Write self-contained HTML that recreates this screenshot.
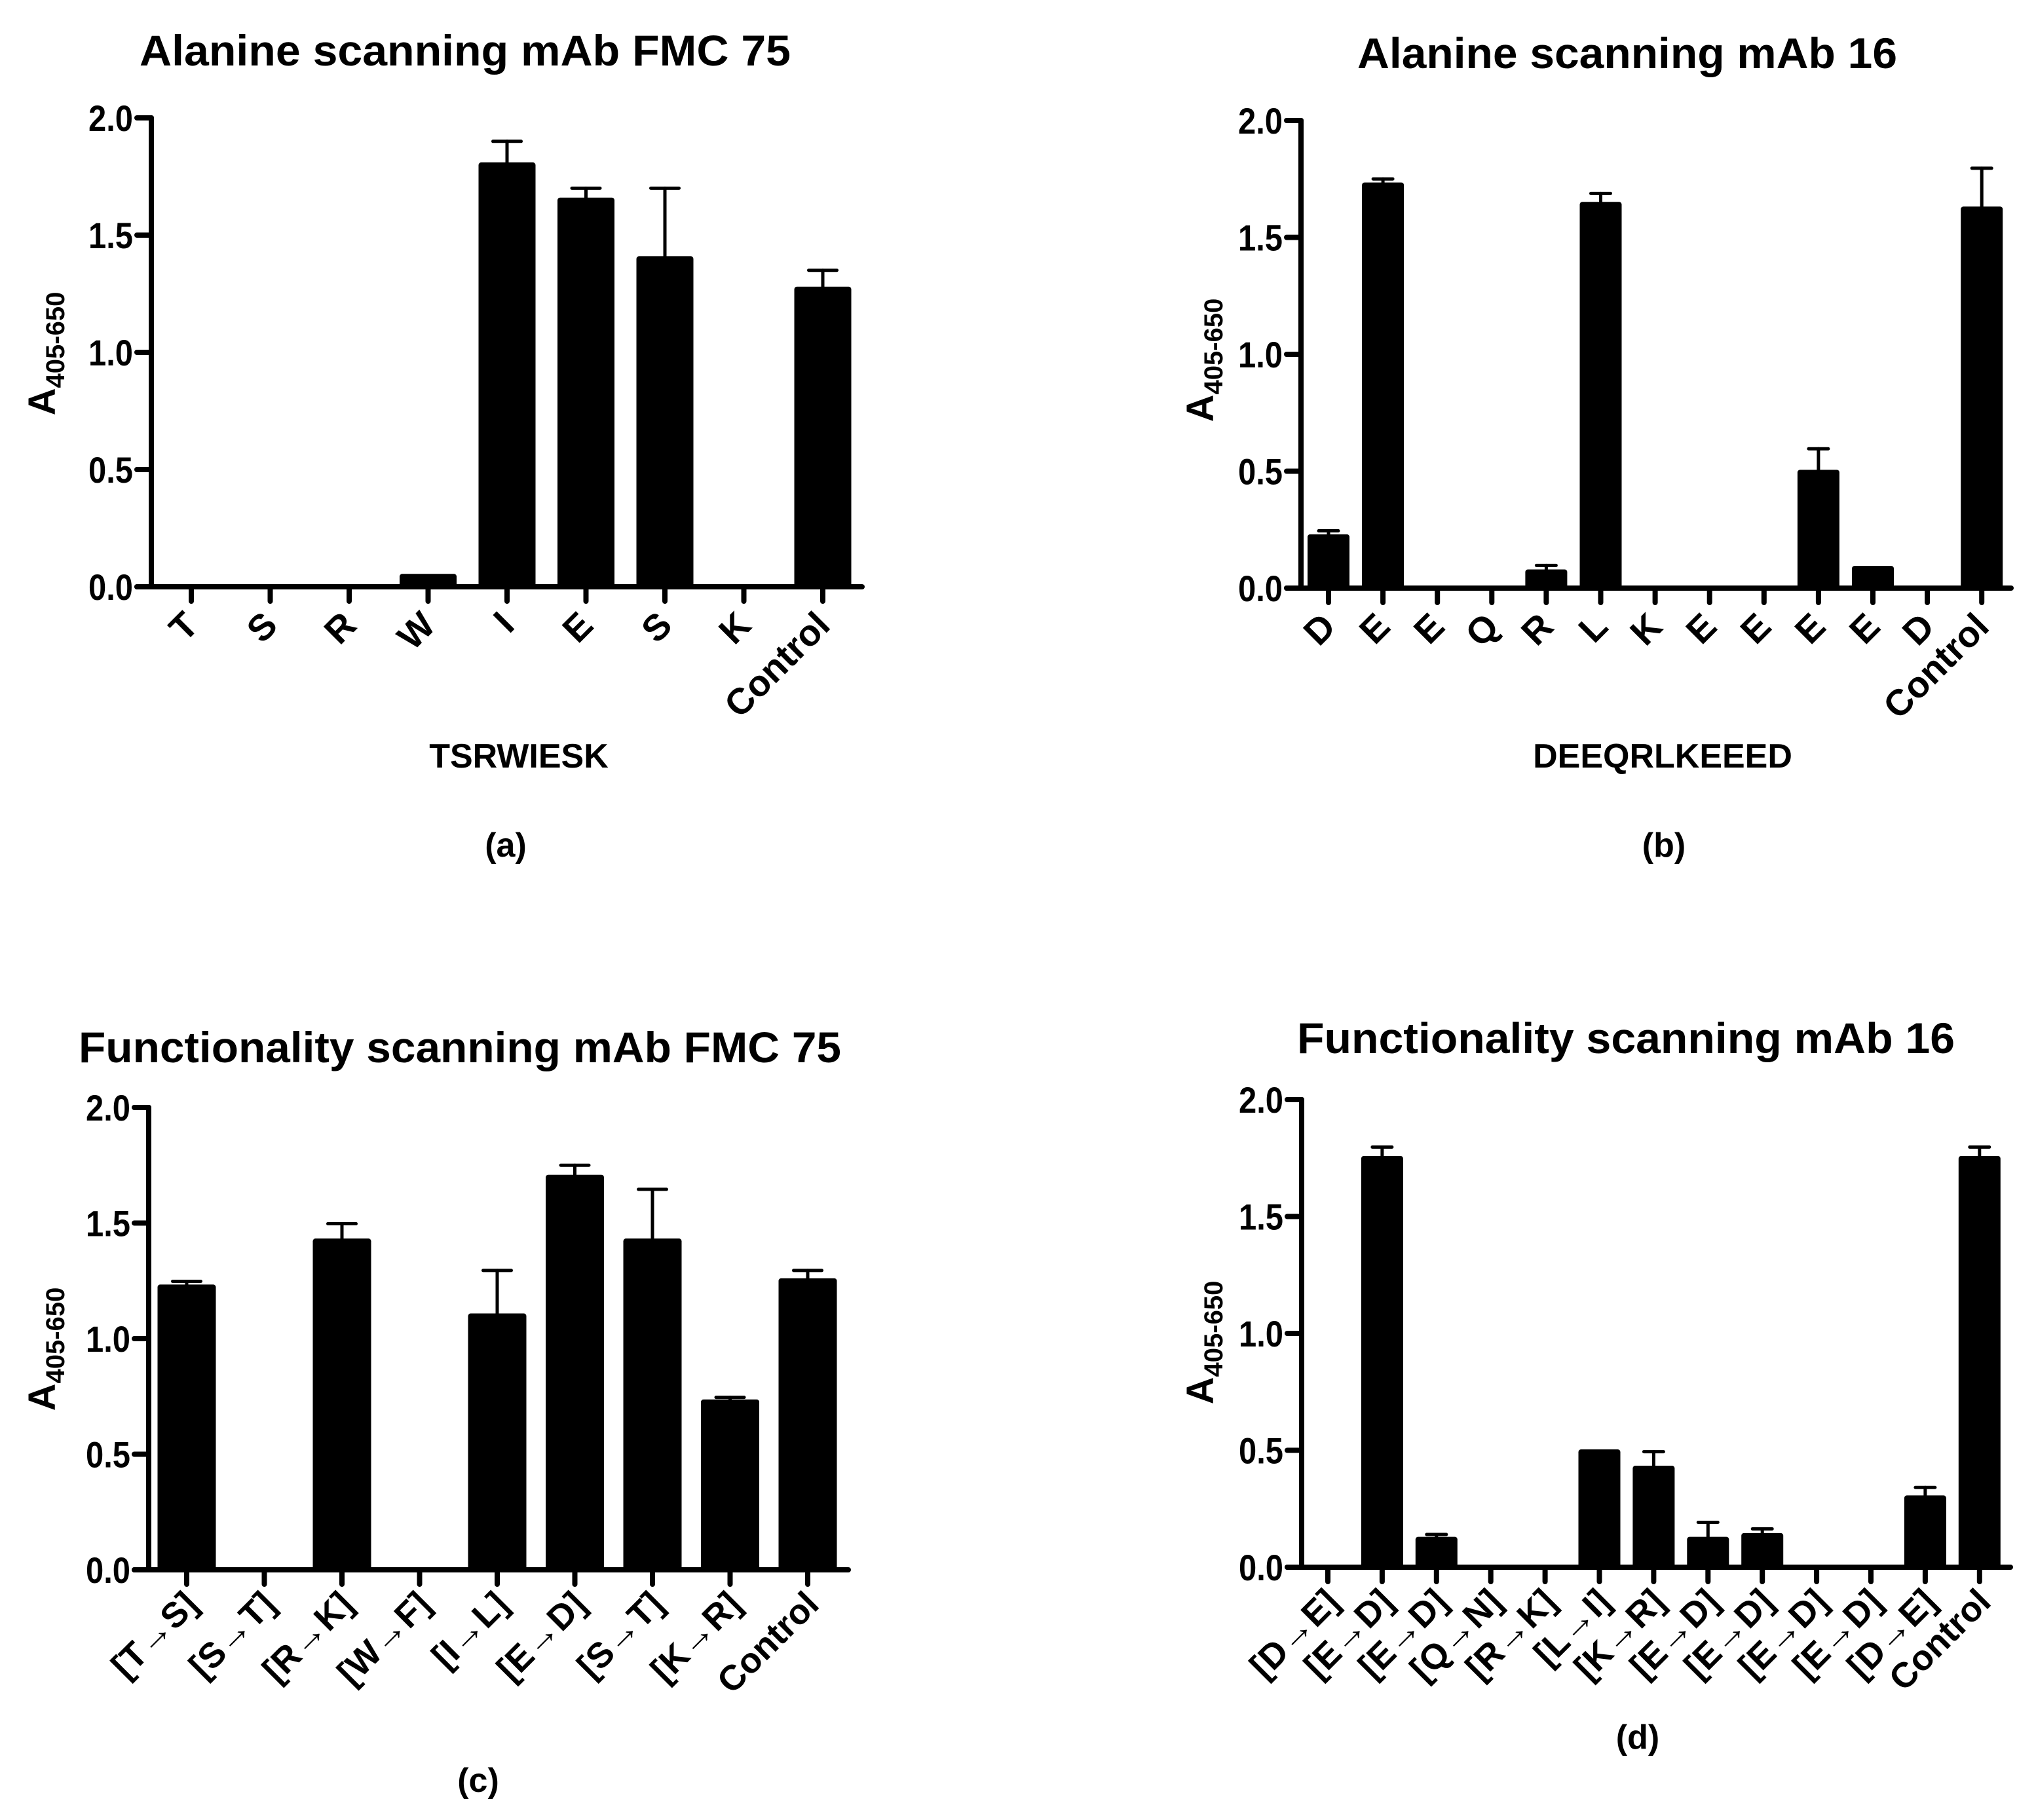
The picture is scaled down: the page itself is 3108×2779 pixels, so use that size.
<!DOCTYPE html>
<html>
<head>
<meta charset="utf-8">
<style>
  html,body{margin:0;padding:0;background:#fff;}
  svg{display:block;}
  text{font-family:"Liberation Sans",Arial,sans-serif;font-weight:bold;fill:#000;}
</style>
</head>
<body>
<svg id="fig" xmlns="http://www.w3.org/2000/svg" width="3108" height="2779" viewBox="0 0 3108 2779">
  <rect width="3108" height="2779" fill="#fff"/>
  <text x="710" y="100" font-size="66" text-anchor="middle" textLength="994" lengthAdjust="spacingAndGlyphs">Alanine scanning mAb FMC 75</text>
  <text x="2484" y="104" font-size="66" text-anchor="middle" textLength="824" lengthAdjust="spacingAndGlyphs">Alanine scanning mAb 16</text>
  <text x="702" y="1622" font-size="66" text-anchor="middle" textLength="1164" lengthAdjust="spacingAndGlyphs">Functionality scanning mAb FMC 75</text>
  <text x="2482" y="1608" font-size="66" text-anchor="middle" textLength="1004" lengthAdjust="spacingAndGlyphs">Functionality scanning mAb 16</text>
  <text x="792" y="1172" font-size="52" text-anchor="middle">TSRWIESK</text>
  <text x="2538" y="1172" font-size="52" text-anchor="middle">DEEQRLKEEED</text>
  <text x="772" y="1308" font-size="52" text-anchor="middle">(a)</text>
  <text x="2540" y="1308" font-size="52" text-anchor="middle">(b)</text>
  <text x="730" y="2736" font-size="52" text-anchor="middle">(c)</text>
  <text x="2500" y="2670" font-size="52" text-anchor="middle">(d)</text>
  <g id="plots"></g>
</svg>
<script>
const catsA = ["T","S","R","W","I","E","S","K","Control"];
const valsA = [0,0,0,0.055,1.81,1.66,1.41,0,1.28];
const errsA = [0,0,0,0,1.90,1.70,1.70,0,1.35];

const catsB = ["D","E","E","Q","R","L","K","E","E","E","E","D","Control"];
const valsB = [0.23,1.735,0,0,0.08,1.652,0,0,0,0.506,0.095,0,1.632];
const errsB = [0.245,1.75,0,0,0.097,1.688,0,0,0,0.596,0,0,1.796];

const catsC = ["[T\u2192S]","[S\u2192T]","[R\u2192K]","[W\u2192F]","[I\u2192L]","[E\u2192D]","[S\u2192T]","[K\u2192R]","Control"];
const valsC = [1.234,0,1.433,0,1.109,1.709,1.433,0.737,1.261];
const errsC = [1.248,0,1.497,0,1.295,1.750,1.646,0.746,1.295];

const catsD = ["[D\u2192E]","[E\u2192D]","[E\u2192D]","[Q\u2192N]","[R\u2192K]","[L\u2192I]","[K\u2192R]","[E\u2192D]","[E\u2192D]","[E\u2192D]","[E\u2192D]","[D\u2192E]","Control"];
const valsD = [0,1.759,0.13,0,0,0.504,0.434,0.13,0.146,0,0,0.307,1.759];
const errsD = [0,1.797,0.14,0,0,0,0.494,0.192,0.164,0,0,0.341,1.797];

const yTicks = [0,0.5,1.0,1.5,2.0];
const yTickLabels = ["0.0","0.5","1.0","1.5","2.0"];

const NS = "http://www.w3.org/2000/svg";
const root = document.getElementById('plots');
function mk(tag, attrs, parent){
  const e = document.createElementNS(NS, tag);
  for (const k in attrs) e.setAttribute(k, attrs[k]);
  (parent||root).appendChild(e);
  return e;
}

function drawPanel(id, cats, vals, errs, L){
  const g = mk('g', {});
  
  
  const y = v => L.y0 - (v/2.0)*(L.y0 - L.y2);
  const x = i => L.firstTick + i*L.step;

  cats.forEach((c,i)=>{
    const v = vals[i];
    if (v > 0){
      const top = y(v);
      const r = mk('rect', {x:(x(i)-L.bw/2), y:top, width:L.bw, height:(L.y0-top)+2, rx:4, ry:4, fill:'#000'}, g);
      
      
    }
    const e = errs[i];
    if (e > v && v > 0){
      const eg = mk('g', {stroke:'#000','stroke-width':5,'stroke-linecap':'round'}, g);
      
      
      mk('line', {x1:x(i), x2:x(i), y1:y(v), y2:y(e)}, eg);
      mk('line', {x1:x(i)-L.cap/2, x2:x(i)+L.cap/2, y1:y(e), y2:y(e)}, eg);
    }
  });

  const ax = mk('g', {stroke:'#000','stroke-width':8,'stroke-linecap':'round',fill:'none'}, g);
  
  
  mk('line', {x1:L.ax, x2:L.ax, y1:L.y2, y2:L.y0}, ax);
  mk('line', {x1:L.ax-22, x2:L.end, y1:L.y0, y2:L.y0}, ax);
  yTicks.forEach(t=>{
    mk('line', {x1:L.ax-22, x2:L.ax, y1:y(t), y2:y(t)}, ax);
  });
  cats.forEach((c,i)=>{
    mk('line', {x1:x(i), x2:x(i), y1:L.y0, y2:L.y0+22}, ax);
  });

  yTicks.forEach((t,k)=>{
    const tx = mk('text', {x:L.ax-28, y:y(t)+20, 'font-size':56, 'text-anchor':'end', textLength:68, lengthAdjust:'spacingAndGlyphs'}, g);
    
    
    tx.textContent = yTickLabels[k];
  });
  cats.forEach((c,i)=>{
    const px = x(i)+L.lx, py = L.y0+L.ly;
    const tx = mk('text', {x:px, y:py, 'font-size':L.fs, 'text-anchor':'end', transform:'rotate(-45 '+px+' '+py+')'}, g);
    
    
    tx.textContent = c;
  });
  const yt = mk('text', {x:0, y:0, 'font-size':58, 'text-anchor':'middle', transform:'translate('+L.ytx+' '+L.yty+') rotate(-90)'}, g);
  
  
  yt.appendChild(document.createTextNode('A'));
  const sub = document.createElementNS(NS,'tspan');
  sub.setAttribute('font-size','40');
  sub.setAttribute('dy','14');
  sub.textContent = '405-650';
  yt.appendChild(sub);
}

drawPanel('a', catsA, valsA, errsA, {ax:231, y0:896, y2:180, firstTick:292, step:120.5, end:1316, bw:87, cap:43, lx:14, ly:62, fs:56, ytx:84, yty:540});
drawPanel('b', catsB, valsB, errsB, {ax:1986, y0:898, y2:184, firstTick:2028, step:83.1, end:3070, bw:64, cap:30, lx:14, ly:62, fs:56, ytx:1852, yty:550});
drawPanel('c', catsC, valsC, errsC, {ax:227, y0:2397, y2:1691, firstTick:285, step:118.5, end:1295, bw:89, cap:43, lx:20, ly:56, fs:54, ytx:84, yty:2060});
drawPanel('d', catsD, valsD, errsD, {ax:1987, y0:2393, y2:1679, firstTick:2027, step:82.9, end:3069, bw:64, cap:30, lx:20, ly:56, fs:54, ytx:1852, yty:2050});
</script>
</body>
</html>
